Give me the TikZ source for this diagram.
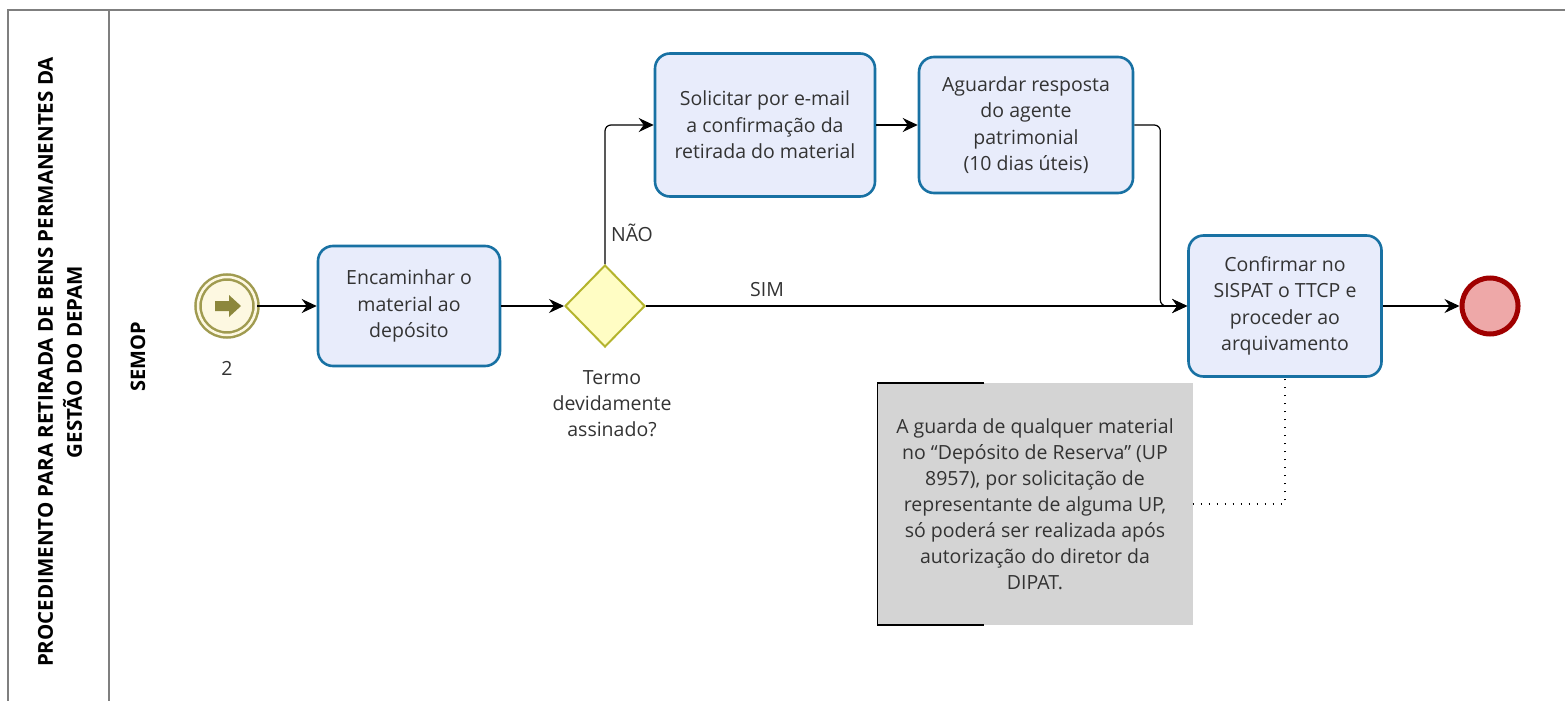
\documentclass[tikz,border=0pt]{standalone}
\usepackage{fontspec}
\setmainfont{Open Sans}
\usepackage{tikz}
\usetikzlibrary{positioning,arrows.meta,shapes.geometric}

\definecolor{taskfill}{RGB}{232,236,251}
\definecolor{taskline}{RGB}{24,113,163}
\definecolor{gwfill}{RGB}{255,253,196}
\definecolor{gwline}{RGB}{180,180,45}
\definecolor{evline}{RGB}{160,155,80}
\definecolor{evfill}{RGB}{253,248,225}
\definecolor{evicon}{RGB}{140,135,60}
\definecolor{endline}{RGB}{160,0,0}
\definecolor{endfill}{RGB}{238,168,168}
\definecolor{notefill}{RGB}{212,212,212}
\definecolor{txt}{RGB}{51,51,51}
\definecolor{poolline}{RGB}{127,127,127}

\tikzset{
bpmntask/.style={draw=taskline, fill=taskfill, line width=2.6pt, rounded corners=15pt,
  minimum width=#1, minimum height=140pt, align=center, text=txt,
  font=\fontsize{19.5}{26.5}\selectfont, inner sep=0pt},
bpmngw/.style={diamond, draw=gwline, fill=gwfill, line width=2pt, minimum width=80pt,
  minimum height=82pt, inner sep=0pt},
flow/.style={draw=black, line width=1.2pt, -{Stealth[length=15pt,width=14pt,inset=5pt]}},
lbl/.style={text=txt, font=\fontsize{19.5}{26}\selectfont, align=center, inner sep=0pt},
}

\begin{document}
\begin{tikzpicture}[x=1pt,y=1pt,yscale=-1]
\useasboundingbox (0,0) rectangle (1565,701);
%Pool frame
\draw [poolline, line width=2pt] (1565,10) -- (8,10) -- (8,701) ;
\draw [poolline, line width=2pt] (109,10) -- (109,701) ;
% Text Node
\node [lbl, rotate=90, font=\fontsize{20.5}{29}\bfseries\selectfont, text=black] (pooltitle) at (60,362)
  {PROCEDIMENTO PARA RETIRADA DE BENS PERMANENTES DA\\GESTÃO DO DEPAM};
% Text Node
\node [lbl, rotate=90, font=\fontsize{20}{26}\bfseries\selectfont, text=black] (lane) at (138,357) {SEMOP};

%Start event
\node [circle, draw=evline, fill=evfill, line width=2.5pt, minimum size=58pt, double=evfill, double distance=2.5pt] (start) at (227,306) {};
\fill [evicon, shift={(start.center)}] (-12,-5) -- (2,-5) -- (2,-11) -- (14,0) -- (2,11) -- (2,5) -- (-12,5) -- cycle ;
\node [lbl] (startlbl) at (227,368) {2};

%Tasks
\node [bpmntask=182pt, minimum height=120pt] (encam) at (409,306) {Encaminhar o\\material ao\\depósito};
\node [bpmntask=220pt, minimum height=143pt] (solic) at (765,125) {Solicitar por e-mail\\a confirmação da\\retirada do material};
\node [bpmntask=214pt, minimum height=136pt] (aguard) at (1026,125) {Aguardar resposta\\do agente\\patrimonial\\(10 dias úteis)};
\node [bpmntask=193pt, minimum height=141pt] (confirm) at (1285,306) {Confirmar no\\SISPAT o TTCP e\\proceder ao\\arquivamento};

%Gateway
\node [bpmngw] (gw) at (605,306) {};
\node [lbl] (gwlbl) at (612,404) {Termo\\devidamente\\assinado?};

%End event
\node [circle, draw=endline, fill=endfill, line width=5pt, minimum size=56pt] (endev) at (1490,306) {};

%Annotation
\node [fill=notefill, minimum width=315pt, minimum height=242pt, lbl] (note) at (1035,504)
  {A guarda de qualquer material\\no “Depósito de Reserva” (UP\\8957), por solicitação de\\representante de alguma UP,\\só poderá ser realizada após\\autorização do diretor da\\DIPAT.};
\draw [line width=1.5pt] ([xshift=107pt]note.north west) -- (note.north west) -- (note.south west) -- ([xshift=107pt]note.south west) ;

%Flows
\draw [flow] (start) -- (encam) ;
\draw [flow] (encam) -- (gw) ;
\draw [flow, rounded corners=6pt] (gw.north) |- (solic.west) ;
\draw [flow] (gw.east) -- (confirm.west) ;
\draw [flow] (solic) -- (aguard) ;
\draw [flow, rounded corners=6pt] (aguard.east) -- ([xshift=26pt]aguard.east) |- (confirm.west) ;
\draw [flow] (confirm) -- (endev) ;
\draw [line width=1.4pt, dash pattern=on 1.5pt off 6.5pt] (note.east) -| (confirm.south) ;

% Text Node
\node [lbl] (nao) at (632,233) {NÃO};
% Text Node
\node [lbl] (sim) at (767,290) {SIM};
\end{tikzpicture}
\end{document}
